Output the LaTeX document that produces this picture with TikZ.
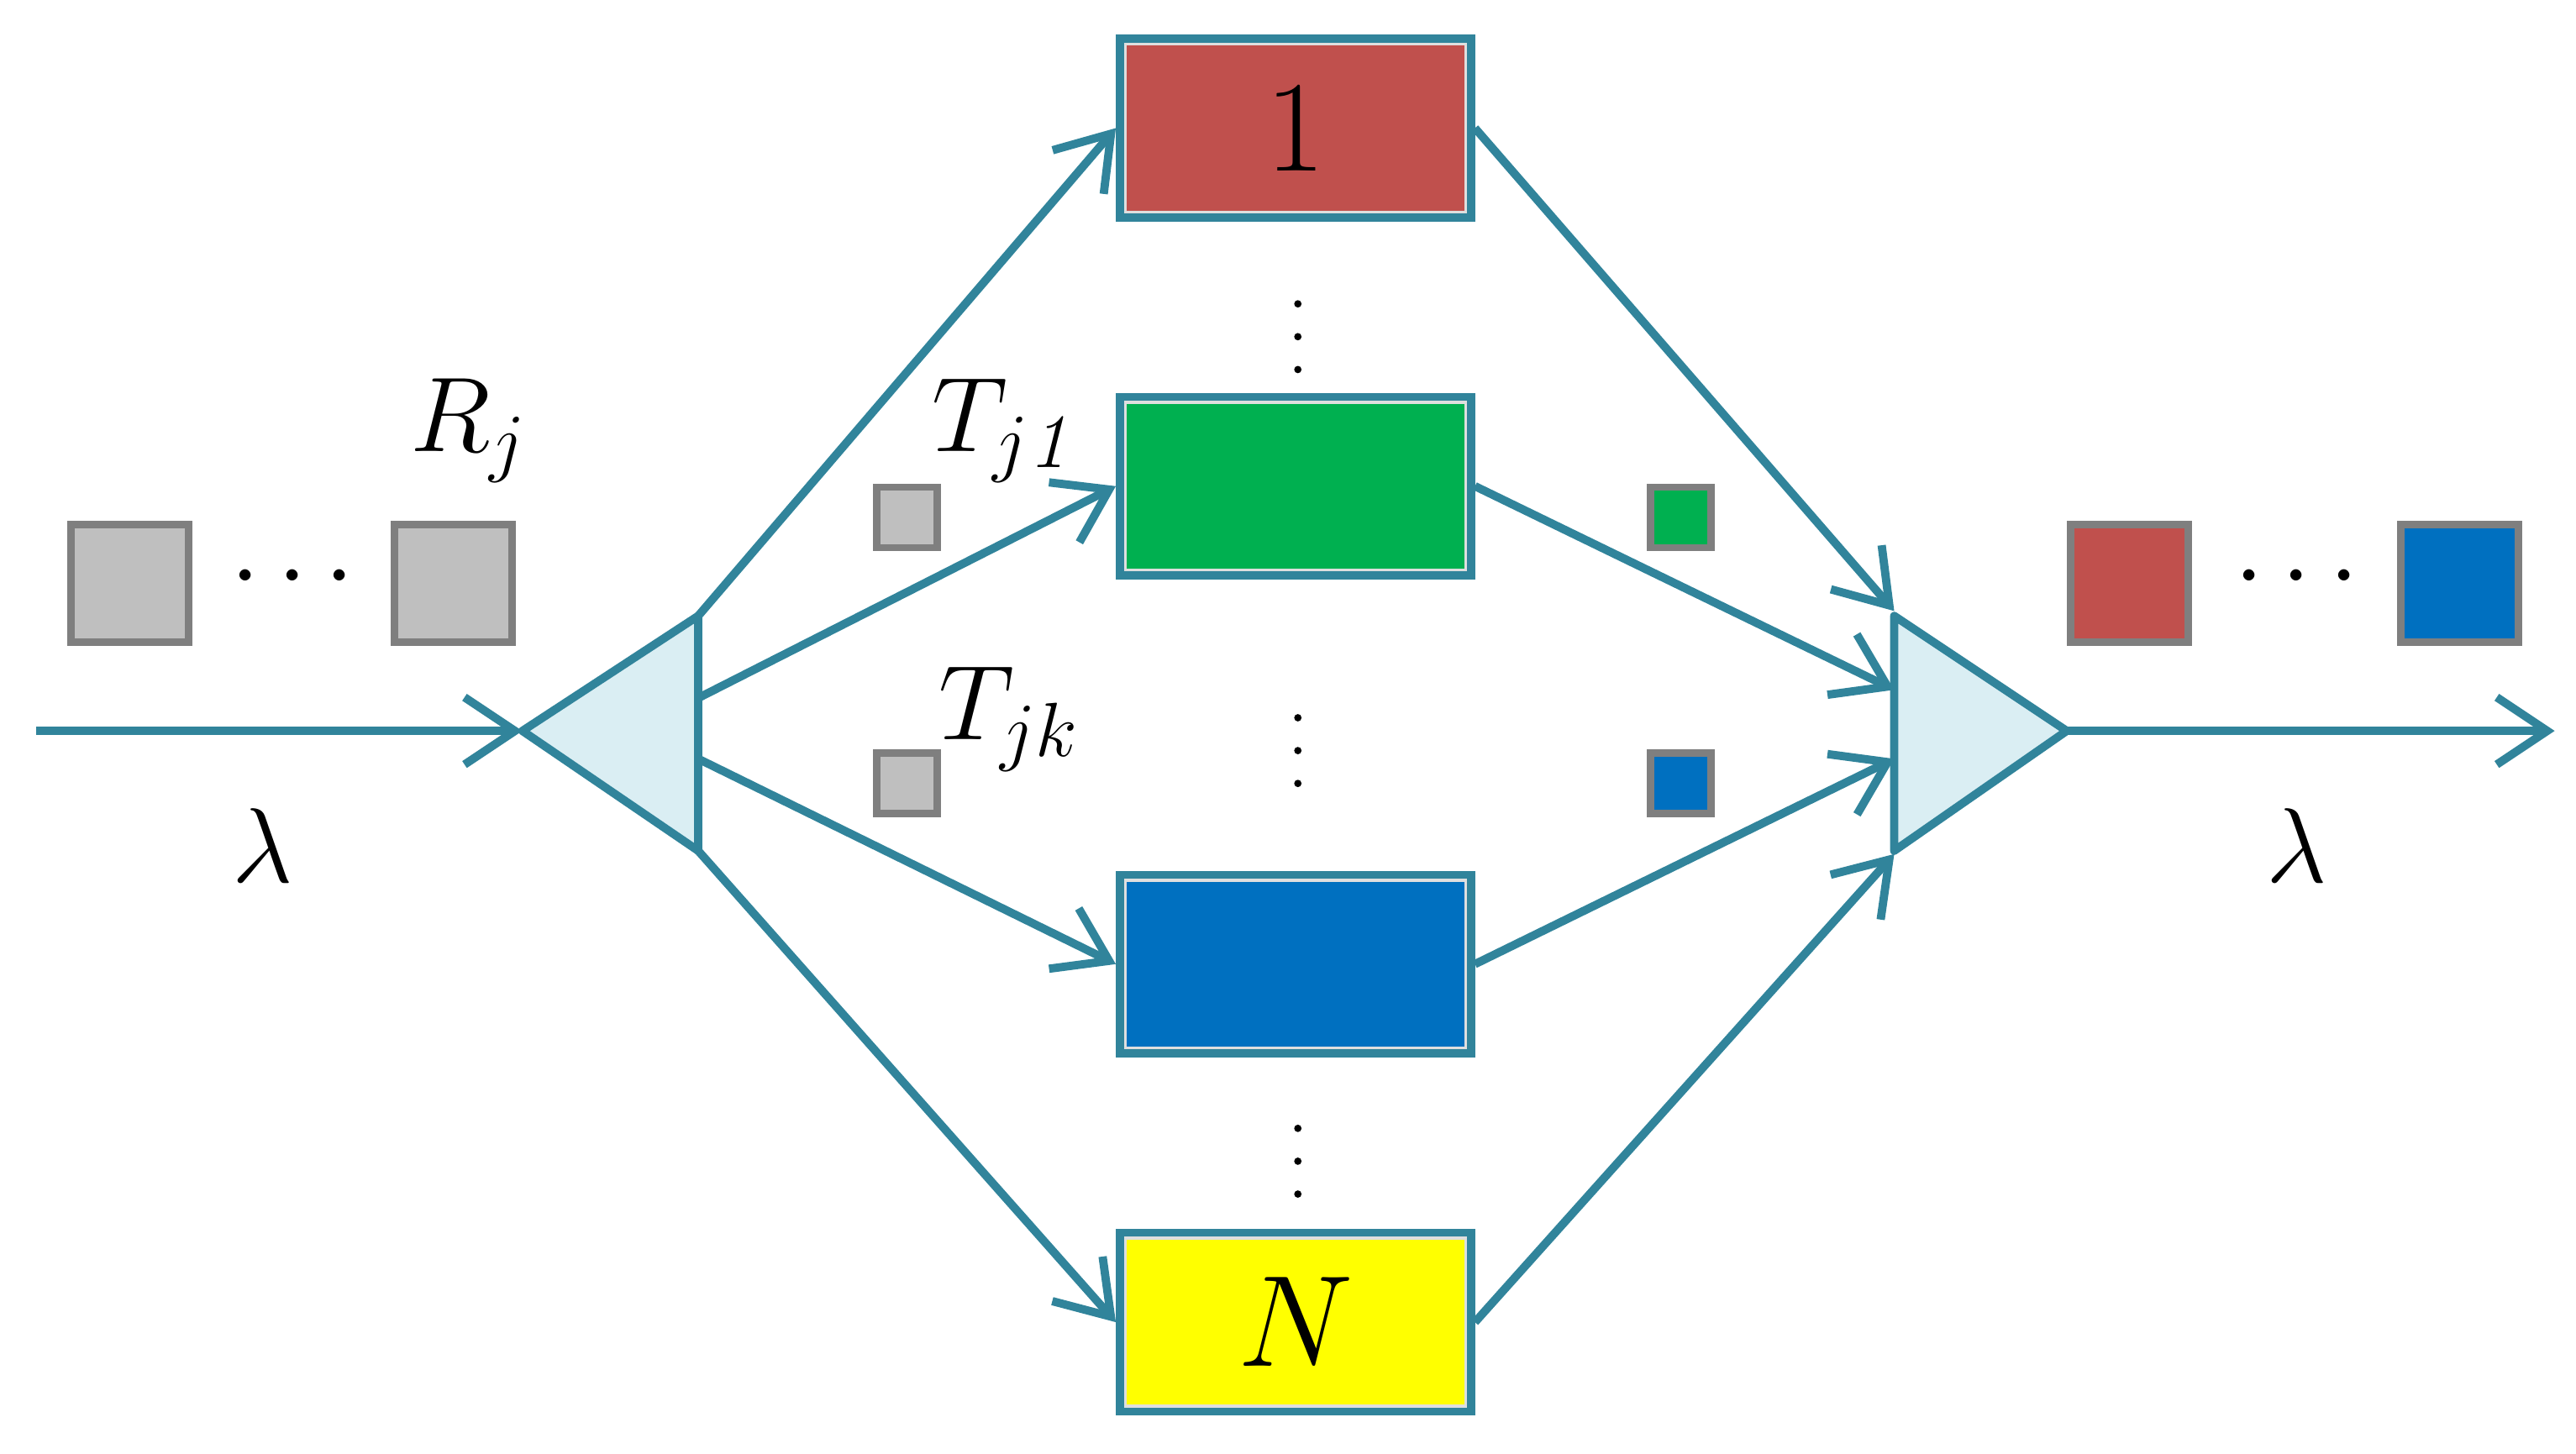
\RequirePackage{fix-cm}
\documentclass[tikz,border=0pt]{standalone}
\usetikzlibrary{arrows.meta}
\definecolor{teal}{HTML}{31849B}
\definecolor{rd}{HTML}{C0504D}
\definecolor{gr}{HTML}{00B050}
\definecolor{bl}{HTML}{0070C0}
\definecolor{ye}{HTML}{FFFF00}
\definecolor{tri}{HTML}{DAEEF3}
\definecolor{gsq}{HTML}{BFBFBF}
\definecolor{gbd}{HTML}{7F7F7F}
\DeclareMathSizes{36}{36}{26}{20}
\DeclareMathSizes{44}{44}{32}{24}
\begin{document}
\begin{tikzpicture}[x=0.01955cm,y=-0.01955cm,
  conn/.style={teal,line width=2.8pt,-{Straight Barb[length=0.6cm,width=0.8cm,line width=2.8pt]}},
  ln/.style={teal,line width=2.8pt},
  box/.style={draw=teal,line width=3.5pt,minimum width=4.15cm,minimum height=2.1cm,inner sep=0pt,font=\fontsize{44}{48}\selectfont},
  sq/.style={draw=gbd,fill=gsq,line width=2.5pt,minimum size=1.4cm,inner sep=0pt},
  ssq/.style={draw=gbd,line width=2.5pt,minimum size=0.72cm,inner sep=0pt},
  lab/.style={font=\fontsize{36}{40}\selectfont,inner sep=0pt},
  dot/.style={circle,fill=black,minimum size=2.5pt,inner sep=0pt}]
\useasboundingbox (0,0) rectangle (1568,885);
% triangles
\coordinate (lt) at (318,445); \coordinate (lu) at (425,375); \coordinate (ld) at (425,518);
\coordinate (rt) at (1258,445); \coordinate (ru) at (1153,375); \coordinate (rdn) at (1153,518);
\draw[ln,fill=tri,line join=round] (lt) -- (lu) -- (ld) -- cycle;
\draw[ln,fill=tri,line join=round] (rt) -- (ru) -- (rdn) -- cycle;
% boxes
\node[box,fill=rd] (b1) at (788.5,78) {1};
\node[box,fill=gr] (b2) at (788.5,296) {};
\node[box,fill=bl] (b3) at (788.5,587) {};
\node[box,fill=ye] (b4) at (788.5,805) {$N$};
\foreach \b in {b1,b2,b3,b4}
  \draw[white!75!gray,line width=1pt] ([shift={(3.2pt,-3.2pt)}]\b.north west) rectangle ([shift={(-3.2pt,3.2pt)}]\b.south east);
% input/output
\coordinate (in) at (22,445); \coordinate (out) at (1555,445);
\draw[conn] (in) -- (lt);
\draw[conn] (rt) -- (out);
% splitting points
\coordinate (s1) at (425,375); \coordinate (s2) at (425,425); \coordinate (s3) at (425,462); \coordinate (s4) at (425,518);
\coordinate (t1) at (1153,372); \coordinate (t2) at (1153,420); \coordinate (t3) at (1153,462); \coordinate (t4) at (1153,520);
\draw[conn] (s1) -- (b1.west);
\draw[conn] (s2) -- (b2.west);
\draw[conn] (s3) -- (b3.west);
\draw[conn] (s4) -- (b4.west);
\draw[conn] (b1.east) -- (t1);
\draw[conn] (b2.east) -- (t2);
\draw[conn] (b3.east) -- (t3);
\draw[conn] (b4.east) -- (t4);
% squares
\node[sq] (g1) at (79,355) {};
\node[sq] (g2) at (276,355) {};
\node[lab] (d1) at (178,352) {$\cdots$};
\node[sq,fill=rd] (o1) at (1296,355) {};
\node[sq,fill=bl] (o2) at (1497,355) {};
\node[lab] (d2) at (1398,352) {$\cdots$};
\node[ssq,fill=gsq] (k1) at (552,315) {};
\node[ssq,fill=gsq] (k2) at (552,477) {};
\node[ssq,fill=gr] (k3) at (1023,315) {};
\node[ssq,fill=bl] (k4) at (1023,477) {};
% labels
\node[lab] (R) at (285,262) {$R_j$};
\node[lab] (T1) at (612,262) {$T_{j\mathit{1}}$};
\node[lab] (Tk) at (614,438) {$T_{jk}$};
\node[lab] (l1) at (160,515) {$\lambda$};
\node[lab] (l2) at (1398,515) {$\lambda$};
% vertical dots
\foreach \y [count=\i] in {185,205,225} \node[dot] (va\i) at (790,\y) {};
\foreach \y [count=\i] in {437,457,477} \node[dot] (vb\i) at (790,\y) {};
\foreach \y [count=\i] in {687,707,727} \node[dot] (vc\i) at (790,\y) {};
\end{tikzpicture}
\end{document}
